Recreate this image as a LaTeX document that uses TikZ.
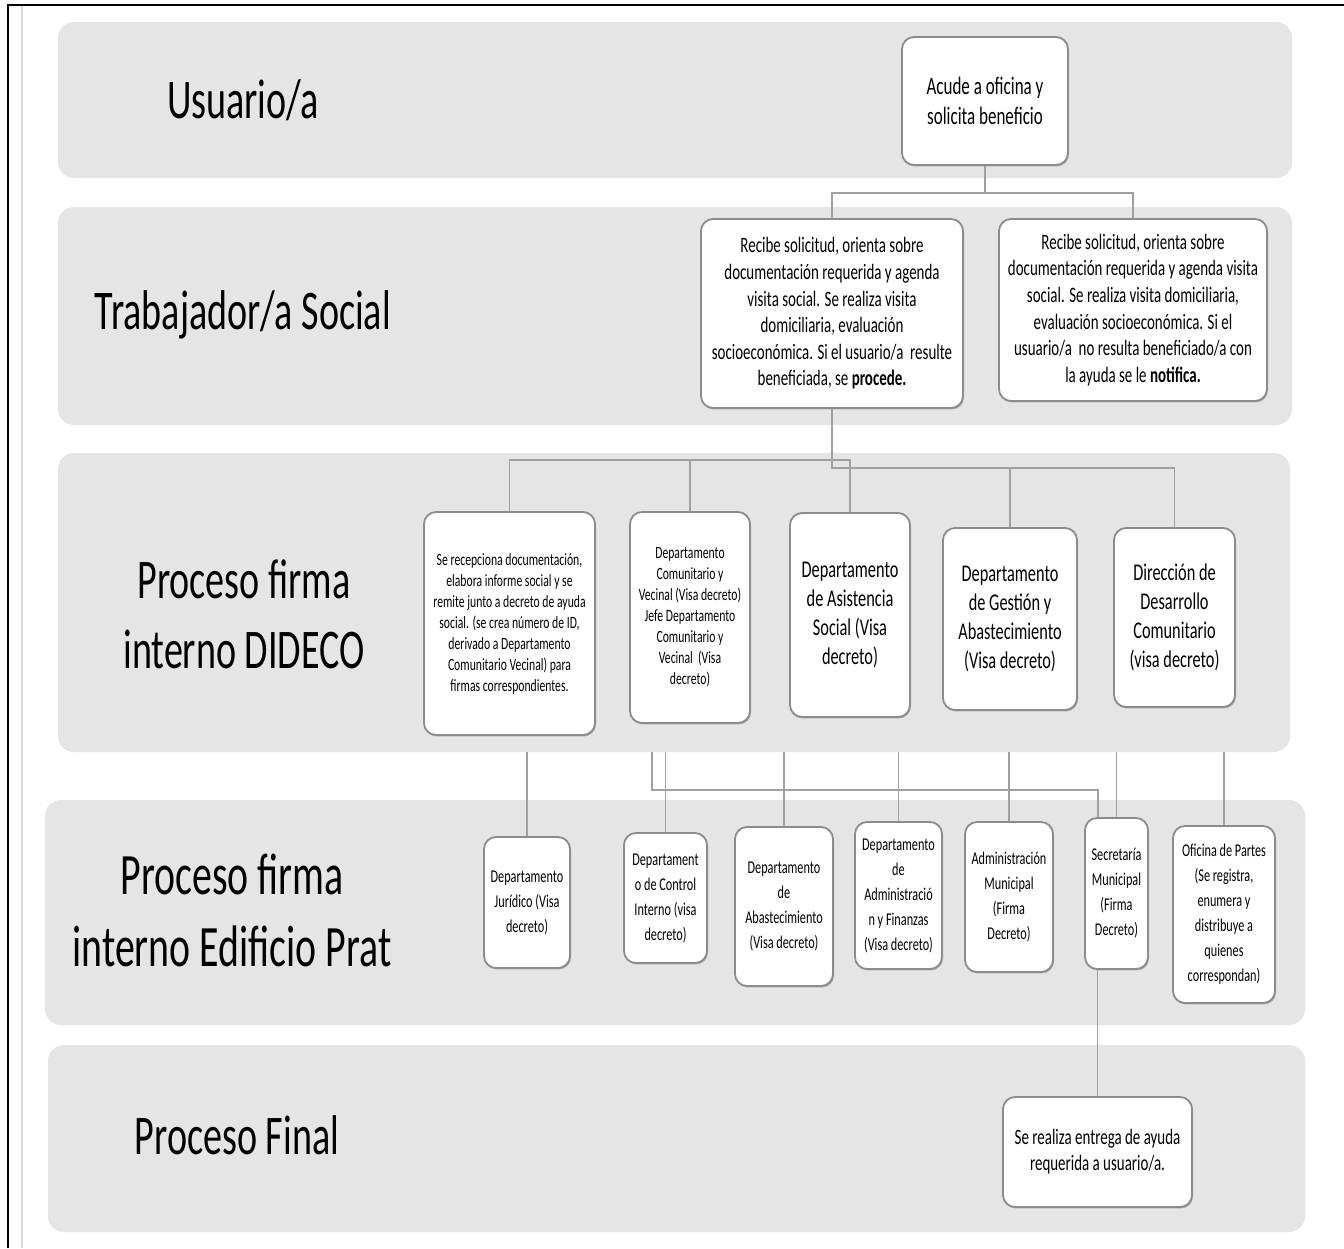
\documentclass[tikz,border=0pt]{standalone}
\usepackage{fontspec}
\setmainfont{Carlito}
\newfontfamily\cf[FakeStretch=0.68]{Carlito}
\usetikzlibrary{shadows}
\definecolor{lanegray}{RGB}{229,229,229}
\definecolor{boxline}{RGB}{140,140,140}
\definecolor{connc}{RGB}{160,160,160}
\tikzset{
  lane/.style={fill=lanegray, rounded corners=8pt},
  lanelabel/.style={font=\cf\fontsize{28}{35}\selectfont, align=center, inner sep=0pt},
  lanelabelb/.style={font=\cf\fontsize{29.3}{36}\selectfont, align=center, inner sep=0pt},
  box/.style={draw=boxline, line width=0.9pt, fill=white, rounded corners=6pt, align=center, inner sep=1pt,
    drop shadow={shadow xshift=0.5pt, shadow yshift=-0.7pt, fill=black, opacity=0.25}},
  sz/.style 2 args={minimum width=#1*0.5pt, minimum height=#2*0.5pt},
  ftop/.style={font=\cf\fontsize{12.5}{15}\selectfont},
  frow2/.style={font=\cf\fontsize{11}{13.3}\selectfont},
  fbig/.style={font=\cf\fontsize{12}{14.5}\selectfont},
  fsmall/.style={font=\cf\fontsize{8.6}{10.5}\selectfont},
  frow4/.style={font=\cf\fontsize{9}{12.5}\selectfont},
  frow5/.style={font=\cf\fontsize{11}{13}\selectfont},
  conn/.style={draw=connc, line width=0.6pt},
}
\begin{document}
\begin{tikzpicture}[x=0.5pt,y=-0.5pt]
\useasboundingbox (0,0) rectangle (1344,1248);
\fill[white] (0,0) rectangle (1344,1248);
% frame
\draw[gray!30, line width=1pt] (22,5) -- (22,1248);
\draw[black, line width=1.1pt] (8,1248) -- (8,5) -- (1344,5);
% lanes
\fill[lane] (58,22) rectangle (1292,178);
\fill[lane] (58,207) rectangle (1292,425);
\fill[lane] (58,453) rectangle (1290,752);
\fill[lane] (45,800) rectangle (1305,1025);
\fill[lane] (48,1045) rectangle (1305,1232);
% lane labels
\node[lanelabel] (t1) at (243,100) {Usuario/a};
\node[lanelabel] (t2) at (243,315) {Trabajador/a Social};
\node[lanelabel] (t3) at (244,614) {Proceso firma\\interno DIDECO};
\node[lanelabelb] (t4) at (232,910) {Proceso firma\\interno Edificio Prat};
\node[lanelabel] (t5) at (237,1135) {Proceso Final};
% coordinates
\coordinate (j1) at (985,193);
\coordinate (j2) at (832,468);
\coordinate (j3) at (850,460);
\coordinate (l3b) at (0,752);
\coordinate (k1) at (652,752);
\coordinate (k2) at (1098,790);
% boxes
\node[box, ftop, sz={166}{128}] (top) at (985,101) {Acude a oficina y\\solicita beneficio};
\node[box, frow2, sz={262}{189}] (b2a) at (832,313.5) {Recibe solicitud, orienta sobre\\documentación requerida y agenda\\visita social. Se realiza visita\\domiciliaria, evaluación\\socioeconómica. Si el usuario/a \ resulte\\beneficiada, se \textbf{procede.}};
\node[box, frow2, sz={268}{182}] (b2b) at (1133,310) {Recibe solicitud, orienta sobre\\documentación requerida y agenda visita\\social. Se realiza visita domiciliaria,\\evaluación socioeconómica. Si el\\usuario/a \ no resulta beneficiado/a con\\la ayuda se le \textbf{notifica.}};
\node[box, fsmall, sz={171}{223}] (b3a) at (509.5,623.5) {Se recepciona documentación,\\elabora informe social y se\\remite junto a decreto de ayuda\\social. (se crea número de ID,\\derivado a Departamento\\Comunitario Vecinal) para\\firmas correspondientes.};
\node[box, fsmall, sz={120}{211}] (b3b) at (690,617.5) {Departamento\\Comunitario y\\Vecinal (Visa decreto)\\Jefe Departamento\\Comunitario y\\Vecinal \ (Visa\\decreto)};
\node[box, fbig, sz={120}{204}] (b3c) at (850,615) {Departamento\\de Asistencia\\Social (Visa\\decreto)};
\node[box, fbig, sz={134}{182}] (b3d) at (1010,619) {Departamento\\de Gestión y\\Abastecimiento\\(Visa decreto)};
\node[box, fbig, sz={121}{179}] (b3e) at (1174.5,617.5) {Dirección de\\Desarrollo\\Comunitario\\(visa decreto)};
\node[box, frow4, sz={86}{131}] (b4a) at (527,902.5) {Departamento\\Jurídico (Visa\\decreto)};
\node[box, frow4, sz={83}{130}] (b4b) at (665.5,898) {Departament\\o de Control\\Interno (visa\\decreto)};
\node[box, frow4, sz={98}{159}] (b4c) at (784,906.5) {Departamento\\de\\Abastecimiento\\(Visa decreto)};
\node[box, frow4, sz={87}{147}] (b4d) at (898.5,895.5) {Departamento\\de\\Administració\\n y Finanzas\\(Visa decreto)};
\node[box, frow4, sz={88}{150}] (b4e) at (1009,897) {Administración\\Municipal\\(Firma\\Decreto)};
\node[box, frow4, sz={63}{151}] (b4f) at (1116.5,893.5) {Secretaría\\Municipal\\(Firma\\Decreto)};
\node[box, frow4, sz={102}{177}] (b4g) at (1224,914.5) {Oficina de Partes\\(Se registra,\\enumera y\\distribuye a\\quienes\\correspondan)};
\node[box, frow5, sz={189}{110}] (b5) at (1097.5,1152) {Se realiza entrega de ayuda\\requerida a usuario/a.};
% connectors
\draw[conn] (top.south) -- (j1);
\draw[conn] (b2a.north) |- (j1) -| (b2b.north);
\draw[conn] (b2a.south) -- (j2) -| (b3e.north);
\draw[conn] (j2 -| b3d.north) -- (b3d.north);
\draw[conn] (b3a.north) |- (j3) -- (b3c.north);
\draw[conn] (b3b.north |- j3) -- (b3b.north);
\draw[conn] (b4a.north |- l3b) -- (b4a.north);
\draw[conn] (b4b.north |- l3b) -- (b4b.north);
\draw[conn] (b4c.north |- l3b) -- (b4c.north);
\draw[conn] (b4d.north |- l3b) -- (b4d.north);
\draw[conn] (b4e.north |- l3b) -- (b4e.north);
\draw[conn] (b4f.north |- l3b) -- (b4f.north);
\draw[conn] (b4g.north |- l3b) -- (b4g.north);
\draw[conn] (k1) |- (k2) -- (k2 |- b4f.north);
\draw[conn] (b4f.south -| b5.north) -- (b5.north);
\end{tikzpicture}
\end{document}
